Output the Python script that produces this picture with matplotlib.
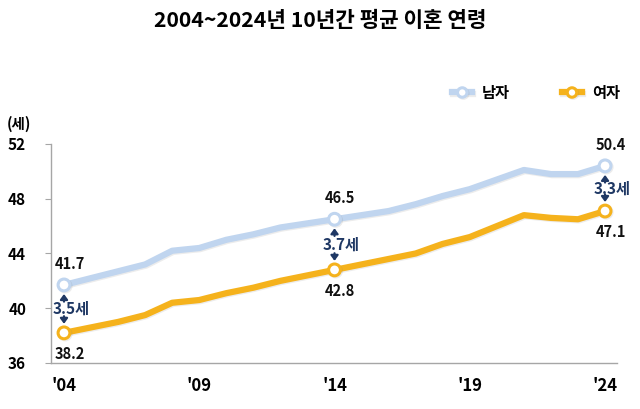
import matplotlib
matplotlib.use("Agg")
import matplotlib.pyplot as plt
import matplotlib.patheffects as pe
import numpy as np

plt.rcParams['font.family'] = ['Noto Sans CJK KR', 'DejaVu Sans']

# 데이터: 평균 이혼 연령 (세)
years = list(range(2004, 2025))
male = [41.7, 42.2, 42.7, 43.2, 44.2, 44.4, 45.0, 45.4, 45.9, 46.2, 46.5,
        46.8, 47.1, 47.6, 48.2, 48.7, 49.4, 50.1, 49.8, 49.8, 50.4]
female = [38.2, 38.6, 39.0, 39.5, 40.4, 40.6, 41.1, 41.5, 42.0, 42.4, 42.8,
          43.2, 43.6, 44.0, 44.7, 45.2, 46.0, 46.8, 46.6, 46.5, 47.1]
mark_years = [2004, 2014, 2024]
tick_years = [2004, 2009, 2014, 2019, 2024]
tick_labels = ["'04", "'09", "'14", "'19", "'24"]

male_c = '#C0D5EF'
fem_c = '#F5B21C'
navy = '#1F3864'

fig = plt.figure(figsize=(6.4, 4.09), dpi=100, facecolor='white')
ax = fig.add_axes([0.0797, 0.1125, 0.8843, 0.5355])

idx = [years.index(y) for y in mark_years]
shadow = [pe.SimpleLineShadow(offset=(0.8, -0.8), alpha=0.15, shadow_color='gray'),
          pe.Normal()]

l1, = ax.plot(years, male, color=male_c, lw=4.5, marker='o', markevery=idx,
              ms=8.5, mfc='white', mec=male_c, mew=2.2, label='남자',
              solid_joinstyle='round', path_effects=shadow, zorder=3)
l2, = ax.plot(years, female, color=fem_c, lw=4.5, marker='o', markevery=idx,
              ms=8.5, mfc='white', mec=fem_c, mew=2.2, label='여자',
              solid_joinstyle='round', path_effects=shadow, zorder=3)

# 값 라벨과 격차 표시
arrow = dict(arrowstyle='-|>,head_width=0.22,head_length=0.3',
             color=navy, lw=1.6, shrinkA=0, shrinkB=6.5)
for i in idx:
    x, m, f = years[i], male[i], female[i]
    ax.annotate(f'{m:.1f}', (x, m), xytext=(4, 15), textcoords='offset points',
                ha='center', va='center', fontsize=10.5, fontweight='bold', color='#111111')
    ax.annotate(f'{f:.1f}', (x, f), xytext=(4, -15), textcoords='offset points',
                ha='center', va='center', fontsize=10.5, fontweight='bold', color='#111111')
    ax.annotate(f'{m - f:.1f}세', (x, (m + f) / 2), xytext=(5, 0),
                textcoords='offset points', ha='center', va='center',
                fontsize=11, fontweight='bold', color=navy, zorder=5)
    ax.annotate('', xy=(x, m), xytext=(0, -12), textcoords='offset points',
                arrowprops=arrow)
    ax.annotate('', xy=(x, f), xytext=(0, 12), textcoords='offset points',
                arrowprops=arrow)

ax.set_xlim(2003.52, 2024.44)
ax.set_ylim(36, 52)
ax.set_yticks([36, 40, 44, 48, 52])
ax.set_xticks(tick_years)
ax.set_xticklabels(tick_labels)
for sp in ['top', 'right']:
    ax.spines[sp].set_visible(False)
for sp in ['left', 'bottom']:
    ax.spines[sp].set_color('#A6A6A6')
    ax.spines[sp].set_linewidth(1.0)
ax.tick_params(axis='y', length=4, color='#A6A6A6', pad=14, labelsize=11)
ax.tick_params(axis='x', length=0, pad=10, labelsize=12)
for t in ax.get_xticklabels() + ax.get_yticklabels():
    t.set_fontweight('bold')

fig.text(0.011, 0.697, '(세)', fontsize=10.5, fontweight='bold', va='center', ha='left')
fig.text(0.5, 0.950, '2004~2024년 10년간 평균 이혼 연령', fontsize=15.3,
         fontweight='bold', ha='center', va='center')

leg = fig.legend(handles=[l1, l2], loc='center right', bbox_to_anchor=(0.99, 0.773),
                 ncol=2, frameon=False, fontsize=11, handlelength=1.3,
                 columnspacing=3.4, handletextpad=0.65, markerscale=0.8)
for t in leg.get_texts():
    t.set_fontweight('bold')

fig.savefig('out.png', dpi=100, facecolor='white')
